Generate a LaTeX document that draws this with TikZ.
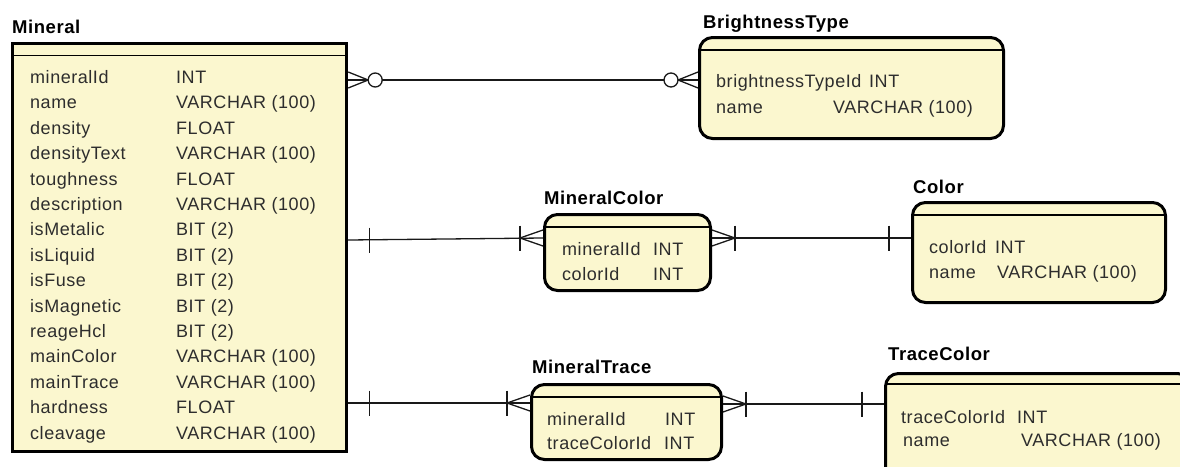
\documentclass[tikz,border=0pt]{standalone}
\usepackage{fontspec}
\setmainfont{Liberation Sans}[LetterSpace=3]
\usetikzlibrary{calc}

\definecolor{entfill}{RGB}{251,247,207}
\definecolor{fieldtext}{RGB}{45,45,45}
\definecolor{linecol}{RGB}{25,25,25}

\tikzset{
  entity/.style={draw=black, line width=3pt, fill=entfill, rounded corners=13pt, inner sep=0pt},
  table/.style={entity, rounded corners=0pt, line width=3.4pt},
  headsep/.style={line width=1.3pt, draw=black},
  field/.style={anchor=west, inner sep=0pt, text=fieldtext,
    font=\fontsize{18}{20}\selectfont, text height=12.9pt, text depth=0pt},
  etitle/.style={anchor=west, inner sep=0pt, text=black,
    font=\bfseries\fontsize{18.5}{20}\selectfont, text height=13.3pt, text depth=0pt},
  rel/.style={line width=1.3pt, draw=linecol},
  % crow's foot, box edge at the origin, connector leaving towards -x
  pics/crowmany/.style={code={
    \draw[rel] (0,-8) -- (-#1,0) -- (0,8);
  }},
  pics/onemany/.style={code={
    \draw[rel] (0,-8) -- (-23,0) -- (0,8);
    \draw[rel] (-23,-12.5) -- (-23,12.5);
  }},
  pics/zeromany/.style={code={
    \draw[rel] (0,-8) -- (-20,0) -- (0,8);
    \draw[rel, fill=white] (-27,0) circle[radius=7];
  }},
  pics/onebar/.style={code={
    \draw[rel] (-#1,-12.5) -- (-#1,12.5);
  }},
}

\newcommand\headline[1]{%
  \draw[headsep] ($(#1.north west)+(2,14)$) -- ($(#1.north east)+(-2,14)$);}

\begin{document}
\begin{tikzpicture}[x=1pt, y=-1pt]
\clip (0,0) rectangle (1180,466);

% ---------- entities ----------
\node[table, minimum width=334pt, minimum height=408pt] (mineral) at (179.5,247.5) {};
\headline{mineral}
\node[etitle] (t-mineral) at (12,26.5) {Mineral};

\node[entity, minimum width=304pt, minimum height=101pt] (bt) at (851.5,88) {};
\headline{bt}
\node[etitle] (t-bt) at (703,21.5) {BrightnessType};

\node[entity, minimum width=166pt, minimum height=76pt] (mc) at (627.5,252.5) {};
\headline{mc}
\node[etitle] (t-mc) at (544,198) {MineralColor};

\node[entity, minimum width=253pt, minimum height=100pt] (color) at (1039,252.5) {};
\headline{color}
\node[etitle] (t-color) at (913,187) {Color};

\node[entity, minimum width=190pt, minimum height=75pt] (mt) at (626.5,422) {};
\headline{mt}
\node[etitle] (t-mt) at (532,367) {MineralTrace};

\node[entity, minimum width=305pt, minimum height=107pt] (tc) at (1038,427) {};
\draw[headsep] ($(tc.north west)+(2,12)$) -- ($(tc.north east)+(-2,12)$);
\node[etitle] (t-tc) at (888,354) {TraceColor};

% ---------- attributes ----------
\foreach \fname/\ftype [count=\i from 0] in {
  mineralId/INT, name/VARCHAR (100), density/FLOAT, densityText/VARCHAR (100),
  toughness/FLOAT, description/VARCHAR (100), isMetalic/BIT (2), isLiquid/BIT (2),
  isFuse/BIT (2), isMagnetic/BIT (2), reageHcl/BIT (2), mainColor/VARCHAR (100),
  mainTrace/VARCHAR (100), hardness/FLOAT, cleavage/VARCHAR (100)}{
  \node[field] (mf\i) at (30,77+25.4*\i) {\fname};
  \node[field] (mt\i) at (176,77+25.4*\i) {\ftype};
}

\node[field] (bt-f1) at (716,81) {brightnessTypeId};
\node[field] (bt-t1) at (869,81) {INT};
\node[field] (bt-f2) at (716,107) {name};
\node[field] (bt-t2) at (833,107) {VARCHAR (100)};

\node[field] (mc-f1) at (562,249) {mineralId};
\node[field] (mc-t1) at (653,249) {INT};
\node[field] (mc-f2) at (562,274) {colorId};
\node[field] (mc-t2) at (653,274) {INT};

\node[field] (co-f1) at (929,247) {colorId};
\node[field] (co-t1) at (995,247) {INT};
\node[field] (co-f2) at (929,272) {name};
\node[field] (co-t2) at (997,272) {VARCHAR (100)};

\node[field] (mt-f1) at (547,419) {mineralId};
\node[field] (mt-t1) at (665,419) {INT};
\node[field] (mt-f2) at (547,443) {traceColorId};
\node[field] (mt-t2) at (664,443) {INT};

\node[field] (tc-f1) at (901,417) {traceColorId};
\node[field] (tc-t1) at (1017,417) {INT};
\node[field] (tc-f2) at (903,440) {name};
\node[field] (tc-t2) at (1021,440) {VARCHAR (100)};

% ---------- ports on the box edges ----------
\coordinate (bt-in)   at ($(bt.west)+(0,-8)$);
\coordinate (mi-bt)   at (mineral.east |- bt-in);
\coordinate (mc-in)   at ($(mc.west)+(0,-14.5)$);
\coordinate (mi-mc)   at ($(mineral.east |- mc-in)+(0,2)$);
\coordinate (mc-out)  at ($(mc.east)+(0,-14.5)$);
\coordinate (co-in)   at (color.west |- mc-out);
\coordinate (mt-in)   at ($(mt.west)+(0,-19)$);
\coordinate (mi-mt)   at (mineral.east |- mt-in);
\coordinate (mt-out)  at ($(mt.east)+(0,-18)$);
\coordinate (tc-in)   at (tc.west |- mt-out);

% ---------- relationships ----------
\draw[rel] (mi-bt) -- (bt-in);
\pic[xscale=-1] at (mi-bt) {zeromany};
\pic at (bt-in) {zeromany};

\draw[rel] (mi-mc) -- (mc-in);
\pic[xscale=-1] at (mi-mc) {onebar=21};
\pic at (mc-in) {onemany};

\draw[rel] (mc-out) -- (co-in);
\pic[xscale=-1] at (mc-out) {onemany};
\pic at (co-in) {onebar=22};

\draw[rel] (mi-mt) -- (mt-in);
\pic[xscale=-1] at (mi-mt) {onebar=21};
\pic at (mt-in) {onemany};

\draw[rel] (mt-out) -- (tc-in);
\pic[xscale=-1] at (mt-out) {onemany};
\pic at (tc-in) {onebar=22};
\end{tikzpicture}
\end{document}
